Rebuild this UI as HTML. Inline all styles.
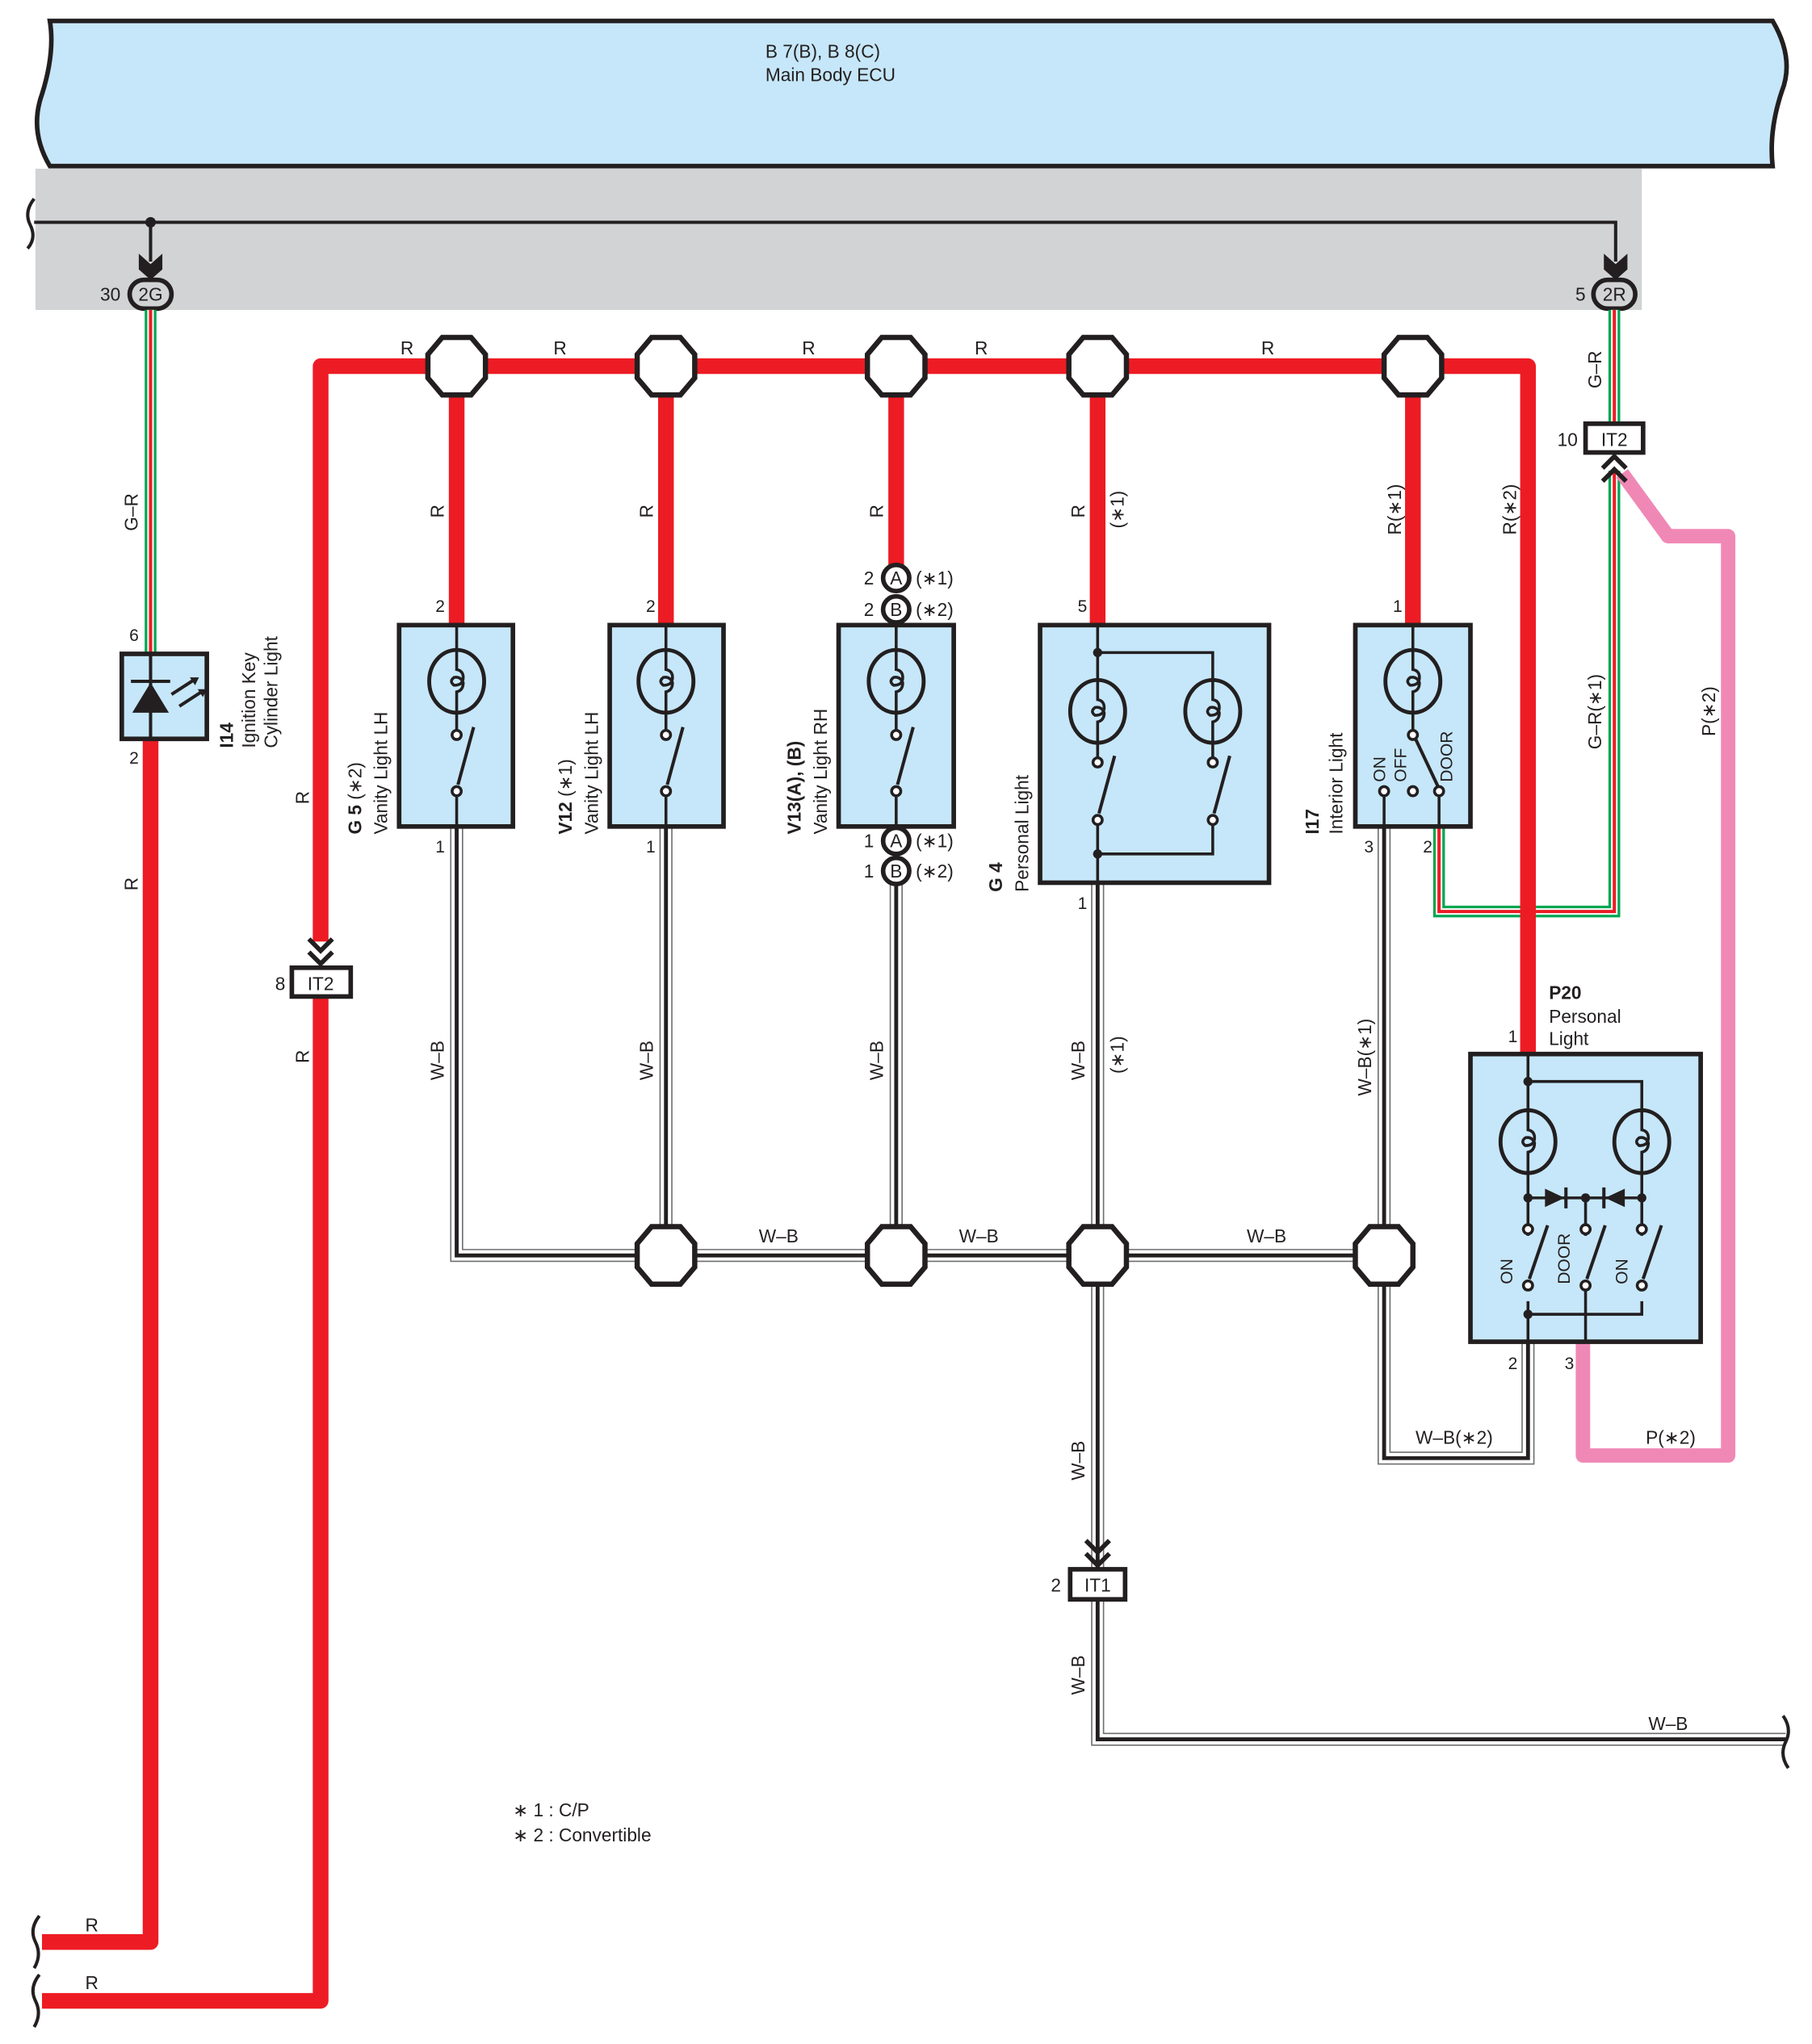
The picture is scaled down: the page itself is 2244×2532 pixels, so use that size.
<!DOCTYPE html>
<html><head><meta charset="utf-8"><style>
html,body{margin:0;padding:0;background:#fff}
svg{display:block}
text{font-family:"Liberation Sans",sans-serif;fill:#231f20}
</style></head><body>
<svg width="2244" height="2532" viewBox="0 0 1385 1563" xmlns="http://www.w3.org/2000/svg">
<defs>
<g id="lamp"><ellipse cx="0" cy="0" rx="21" ry="24" fill="none" stroke="#231f20" stroke-width="3"/>
<path d="M0,-24 V-9 Q5,-8 5,-3 Q5,3 -2,3 Q-6,0 -2,-3 Q3,-4 5,1 Q5,7 0,8 V24" fill="none" stroke="#231f20" stroke-width="2.2"/></g>
<g id="oct"><polygon points="-11,-22 11,-22 22,-9 22,9 11,22 -11,22 -22,9 -22,-9" fill="#fff" stroke="#231f20" stroke-width="4"/></g>
<path id="wb1" fill="none" d="M349,632 V960 H1058 M509,632 V960 M685,676 V960 M839,675 V1200 M839,1223 V1330 H1365 M1058,632 V1115 H1168 V1026"/>
</defs>

<!-- ECU -->
<path d="M38,16 H1355 Q1372,45 1362,70 Q1352,100 1355,127 H38 Q22,100 32,72 Q42,40 38,16 Z" fill="#c6e7f9" stroke="#231f20" stroke-width="3.5"/>
<text x="585" y="44" font-size="14">B 7(B), B 8(C)</text>
<text x="585" y="62" font-size="14">Main Body ECU</text>
<rect x="27" y="129" width="1228" height="108" fill="#d1d3d4"/>
<path d="M26,170 H1235 V200" fill="none" stroke="#231f20" stroke-width="2.5"/>
<path d="M26,152 Q18,162 23,172 Q28,182 21,190" fill="none" stroke="#231f20" stroke-width="2.5"/>
<circle cx="115" cy="170" r="4" fill="#231f20"/>
<line x1="115" y1="170" x2="115" y2="200" stroke="#231f20" stroke-width="2.5"/>
<polygon points="106,194 115,202 124,194 124,206 115,214 106,206" fill="#231f20"/>
<polygon points="1226,194 1235,202 1244,194 1244,206 1235,214 1226,206" fill="#231f20"/>
<rect x="99" y="214" width="32" height="22" rx="11" fill="#d1d3d4" stroke="#231f20" stroke-width="3.5"/>
<text x="115" y="230" font-size="14" text-anchor="middle">2G</text>
<text x="92" y="230" font-size="14" text-anchor="end">30</text>
<rect x="1218" y="214" width="32" height="22" rx="11" fill="#d1d3d4" stroke="#231f20" stroke-width="3.5"/>
<text x="1234" y="230" font-size="14" text-anchor="middle">2R</text>
<text x="1212" y="230" font-size="14" text-anchor="end">5</text>

<!-- G-R wires -->
<g fill="none" stroke-linejoin="miter">
<path d="M115,237 V500" stroke="#00a651" stroke-width="9"/><path d="M115,237 V500" stroke="#fff" stroke-width="5"/><path d="M115,237 V500" stroke="#ed1c24" stroke-width="2.5"/>
<path d="M1234,237 V324" stroke="#00a651" stroke-width="9"/><path d="M1234,237 V324" stroke="#fff" stroke-width="5"/><path d="M1234,237 V324" stroke="#ed1c24" stroke-width="2.5"/>
<path d="M1234,360 V697 H1100 V632" stroke="#00a651" stroke-width="9"/><path d="M1234,360 V697 H1100 V632" stroke="#fff" stroke-width="5"/><path d="M1234,360 V697 H1100 V632" stroke="#ed1c24" stroke-width="2.5"/>
</g>

<!-- pink -->
<path d="M1240,362 L1275,410 H1321 V1113 H1210 V1026" fill="none" stroke="#f088b6" stroke-width="11" stroke-linejoin="round"/>

<!-- red wires -->
<g fill="none" stroke="#ed1c24" stroke-width="12" stroke-linejoin="round">
<path d="M115,565 V1485 H32"/>
<path d="M245,760 V1530 H32"/>
<path d="M245,720 V280 H1168 V806"/>
<path d="M349,280 V478"/><path d="M509,280 V478"/><path d="M685,280 V432"/><path d="M839,280 V478"/><path d="M1080,280 V478"/>
</g>
<path d="M30,1465 Q22,1475 27,1485 Q32,1495 26,1505 M30,1510 Q22,1520 27,1530 Q32,1540 26,1550" fill="none" stroke="#231f20" stroke-width="2.5"/>

<!-- W-B wires -->
<use href="#wb1" fill="none" stroke="#6d6e71" stroke-width="10"/>
<use href="#wb1" fill="none" stroke="#fff" stroke-width="8"/>
<use href="#wb1" fill="none" stroke="#231f20" stroke-width="3"/>
<path d="M1363,1312 Q1370,1322 1365,1332 Q1360,1342 1367,1352" fill="none" stroke="#231f20" stroke-width="2.5"/>

<!-- splices -->
<use href="#oct" x="349" y="280"/><use href="#oct" x="509" y="280"/><use href="#oct" x="685" y="280"/><use href="#oct" x="839" y="280"/><use href="#oct" x="1080" y="280"/>
<use href="#oct" x="509" y="960"/><use href="#oct" x="685" y="960"/><use href="#oct" x="839" y="960"/><use href="#oct" x="1058" y="960"/>

<!-- IT2 / IT1 connectors -->
<path d="M236,718 L245,727 L254,718 M236,728 L245,737 L254,728" fill="none" stroke="#231f20" stroke-width="3.5"/>
<rect x="223" y="740" width="45" height="22" fill="#fff" stroke="#231f20" stroke-width="3.5"/>
<text x="245" y="757" font-size="14" text-anchor="middle">IT2</text>
<text x="218" y="757" font-size="14" text-anchor="end">8</text>
<rect x="1212" y="324" width="44" height="22" fill="#fff" stroke="#231f20" stroke-width="3.5"/>
<text x="1234" y="341" font-size="14" text-anchor="middle">IT2</text>
<text x="1206" y="341" font-size="14" text-anchor="end">10</text>
<path d="M1225,358 L1234,349 L1243,358 M1225,368 L1234,359 L1243,368" fill="none" stroke="#231f20" stroke-width="3.5"/>
<path d="M830,1178 L839,1187 L848,1178 M830,1188 L839,1197 L848,1188" fill="none" stroke="#231f20" stroke-width="3.5"/>
<rect x="818" y="1200" width="42" height="23" fill="#fff" stroke="#231f20" stroke-width="3.5"/>
<text x="839" y="1217" font-size="14" text-anchor="middle">IT1</text>
<text x="811" y="1217" font-size="14" text-anchor="end">2</text>

<!-- I14 -->
<rect x="93" y="500" width="65" height="65" fill="#c6e7f9" stroke="#231f20" stroke-width="3.5"/>
<line x1="115" y1="500" x2="115" y2="565" stroke="#231f20" stroke-width="2.5"/>
<polygon points="101,545 129,545 115,522" fill="#231f20"/><line x1="100" y1="521" x2="130" y2="521" stroke="#231f20" stroke-width="2.5"/>
<path d="M131,531 L148,520 M137,540 L154,529" stroke="#231f20" stroke-width="2.5"/>
<polygon points="152,518 145,518 149,524" fill="#231f20"/><polygon points="158,527 151,527 155,533" fill="#231f20"/>
<text x="106" y="490" font-size="13" text-anchor="end">6</text>
<text x="106" y="584" font-size="13" text-anchor="end">2</text>
<g transform="rotate(-90 178 572)"><text x="178" y="572" font-size="14" font-weight="bold">I14</text></g>
<g transform="rotate(-90 195 572)"><text x="195" y="572" font-size="14">Ignition Key</text></g>
<g transform="rotate(-90 212 572)"><text x="212" y="572" font-size="14">Cylinder Light</text></g>

<!-- G5 -->
<rect x="305" y="478" width="87" height="154" fill="#c6e7f9" stroke="#231f20" stroke-width="3.5"/>
<path d="M349,478 V497 M349,545 V559 M349,609 V632" stroke="#231f20" stroke-width="2.2"/>
<use href="#lamp" x="349" y="521"/>
<circle cx="349" cy="562" r="3.5" fill="#fff" stroke="#231f20" stroke-width="2.2"/><circle cx="349" cy="605" r="3.5" fill="#fff" stroke="#231f20" stroke-width="2.2"/>
<line x1="350" y1="600" x2="362" y2="556" stroke="#231f20" stroke-width="2.5"/>
<text x="340" y="468" font-size="13" text-anchor="end">2</text><text x="340" y="652" font-size="13" text-anchor="end">1</text>
<g transform="rotate(-90 276 638)"><text x="276" y="638" font-size="14"><tspan font-weight="bold">G 5</tspan> (∗2)</text></g>
<g transform="rotate(-90 296 638)"><text x="296" y="638" font-size="14">Vanity Light LH</text></g>

<!-- V12 -->
<rect x="466" y="478" width="87" height="154" fill="#c6e7f9" stroke="#231f20" stroke-width="3.5"/>
<path d="M509,478 V497 M509,545 V559 M509,609 V632" stroke="#231f20" stroke-width="2.2"/>
<use href="#lamp" x="509" y="521"/>
<circle cx="509" cy="562" r="3.5" fill="#fff" stroke="#231f20" stroke-width="2.2"/><circle cx="509" cy="605" r="3.5" fill="#fff" stroke="#231f20" stroke-width="2.2"/>
<line x1="510" y1="600" x2="522" y2="556" stroke="#231f20" stroke-width="2.5"/>
<text x="501" y="468" font-size="13" text-anchor="end">2</text><text x="501" y="652" font-size="13" text-anchor="end">1</text>
<g transform="rotate(-90 437 638)"><text x="437" y="638" font-size="14"><tspan font-weight="bold">V12</tspan> (∗1)</text></g>
<g transform="rotate(-90 457 638)"><text x="457" y="638" font-size="14">Vanity Light LH</text></g>

<!-- V13 -->
<rect x="641" y="478" width="88" height="154" fill="#c6e7f9" stroke="#231f20" stroke-width="3.5"/>
<path d="M685,478 V497 M685,545 V559 M685,609 V632" stroke="#231f20" stroke-width="2.2"/>
<use href="#lamp" x="685" y="521"/>
<circle cx="685" cy="562" r="3.5" fill="#fff" stroke="#231f20" stroke-width="2.2"/><circle cx="685" cy="605" r="3.5" fill="#fff" stroke="#231f20" stroke-width="2.2"/>
<line x1="686" y1="600" x2="698" y2="556" stroke="#231f20" stroke-width="2.5"/>
<g font-size="14">
<circle cx="685" cy="442" r="10" fill="#fff" stroke="#231f20" stroke-width="3.5"/><text x="685" y="447" text-anchor="middle">A</text>
<circle cx="685" cy="466" r="10" fill="#fff" stroke="#231f20" stroke-width="3.5"/><text x="685" y="471" text-anchor="middle">B</text>
<circle cx="685" cy="643" r="10" fill="#fff" stroke="#231f20" stroke-width="3.5"/><text x="685" y="648" text-anchor="middle">A</text>
<circle cx="685" cy="666" r="10" fill="#fff" stroke="#231f20" stroke-width="3.5"/><text x="685" y="671" text-anchor="middle">B</text>
<text x="668" y="447" text-anchor="end">2</text><text x="668" y="471" text-anchor="end">2</text>
<text x="668" y="648" text-anchor="end">1</text><text x="668" y="671" text-anchor="end">1</text>
<text x="700" y="447">(∗1)</text><text x="700" y="471">(∗2)</text><text x="700" y="648">(∗1)</text><text x="700" y="671">(∗2)</text>
</g>
<g transform="rotate(-90 612 638)"><text x="612" y="638" font-size="14"><tspan font-weight="bold">V13(A), (B)</tspan></text></g>
<g transform="rotate(-90 632 638)"><text x="632" y="638" font-size="14">Vanity Light RH</text></g>

<!-- G4 -->
<rect x="795" y="478" width="175" height="197" fill="#c6e7f9" stroke="#231f20" stroke-width="3.5"/>
<path d="M839,478 V520 M839,568 V580 M839,628 V675 M839,499 H927 V520 M927,568 V580 M927,628 V653 H839" fill="none" stroke="#231f20" stroke-width="2.2"/>
<use href="#lamp" x="839" y="544"/><use href="#lamp" x="927" y="544"/>
<circle cx="839" cy="499" r="3.5" fill="#231f20"/><circle cx="839" cy="653" r="3.5" fill="#231f20"/>
<circle cx="839" cy="583" r="3.5" fill="#fff" stroke="#231f20" stroke-width="2.2"/><circle cx="839" cy="627" r="3.5" fill="#fff" stroke="#231f20" stroke-width="2.2"/>
<circle cx="927" cy="583" r="3.5" fill="#fff" stroke="#231f20" stroke-width="2.2"/><circle cx="927" cy="627" r="3.5" fill="#fff" stroke="#231f20" stroke-width="2.2"/>
<line x1="840" y1="622" x2="852" y2="578" stroke="#231f20" stroke-width="2.5"/><line x1="928" y1="622" x2="940" y2="578" stroke="#231f20" stroke-width="2.5"/>
<text x="831" y="468" font-size="13" text-anchor="end">5</text><text x="831" y="695" font-size="13" text-anchor="end">1</text>
<g transform="rotate(-90 766 682)"><text x="766" y="682" font-size="14" font-weight="bold">G 4</text></g>
<g transform="rotate(-90 786 682)"><text x="786" y="682" font-size="14">Personal Light</text></g>

<!-- I17 -->
<rect x="1036" y="478" width="88" height="154" fill="#c6e7f9" stroke="#231f20" stroke-width="3.5"/>
<path d="M1080,478 V497 M1080,545 V559 M1058,606 V632 M1100,606 V632" stroke="#231f20" stroke-width="2.2"/>
<use href="#lamp" x="1080" y="521"/>
<circle cx="1080" cy="562" r="3.5" fill="#fff" stroke="#231f20" stroke-width="2.2"/>
<circle cx="1058" cy="605" r="3.5" fill="#fff" stroke="#231f20" stroke-width="2.2"/><circle cx="1080" cy="605" r="3.5" fill="#fff" stroke="#231f20" stroke-width="2.2"/><circle cx="1100" cy="605" r="3.5" fill="#fff" stroke="#231f20" stroke-width="2.2"/>
<line x1="1082" y1="565" x2="1099" y2="601" stroke="#231f20" stroke-width="2.5"/>
<g transform="rotate(-90 1059 598)"><text x="1059" y="598" font-size="13">ON</text></g>
<g transform="rotate(-90 1075 598)"><text x="1075" y="598" font-size="13">OFF</text></g>
<g transform="rotate(-90 1110 598)"><text x="1110" y="598" font-size="13">DOOR</text></g>
<text x="1072" y="468" font-size="13" text-anchor="end">1</text>
<text x="1050" y="652" font-size="13" text-anchor="end">3</text><text x="1095" y="652" font-size="13" text-anchor="end">2</text>
<g transform="rotate(-90 1008 638)"><text x="1008" y="638" font-size="14" font-weight="bold">I17</text></g>
<g transform="rotate(-90 1026 638)"><text x="1026" y="638" font-size="14">Interior Light</text></g>

<!-- P20 -->
<rect x="1124" y="806" width="176" height="220" fill="#c6e7f9" stroke="#231f20" stroke-width="3.5"/>
<path d="M1168,806 V849 M1168,897 V945 M1168,995 V1026 M1168,827 H1255 V849 M1255,897 V945 M1255,995 V1005 H1168 M1212,916 V945 M1212,985 V1026 M1168,916 H1255" fill="none" stroke="#231f20" stroke-width="2.2"/>
<use href="#lamp" x="1168" y="873"/><use href="#lamp" x="1255" y="873"/>
<polygon points="1181,909 1181,923 1196,916" fill="#231f20"/><line x1="1197" y1="908" x2="1197" y2="924" stroke="#231f20" stroke-width="2.5"/>
<polygon points="1242,909 1242,923 1227,916" fill="#231f20"/><line x1="1226" y1="908" x2="1226" y2="924" stroke="#231f20" stroke-width="2.5"/>
<circle cx="1168" cy="827" r="3.5" fill="#231f20"/><circle cx="1168" cy="916" r="3.5" fill="#231f20"/><circle cx="1212" cy="916" r="3.5" fill="#231f20"/><circle cx="1255" cy="916" r="3.5" fill="#231f20"/><circle cx="1168" cy="1005" r="3.5" fill="#231f20"/>
<circle cx="1168" cy="940" r="3.5" fill="#fff" stroke="#231f20" stroke-width="2.2"/><circle cx="1212" cy="940" r="3.5" fill="#fff" stroke="#231f20" stroke-width="2.2"/><circle cx="1255" cy="940" r="3.5" fill="#fff" stroke="#231f20" stroke-width="2.2"/>
<circle cx="1168" cy="983" r="3.5" fill="#fff" stroke="#231f20" stroke-width="2.2"/><circle cx="1212" cy="983" r="3.5" fill="#fff" stroke="#231f20" stroke-width="2.2"/><circle cx="1255" cy="983" r="3.5" fill="#fff" stroke="#231f20" stroke-width="2.2"/>
<line x1="1169" y1="978" x2="1183" y2="937" stroke="#231f20" stroke-width="2.5"/><line x1="1213" y1="978" x2="1227" y2="937" stroke="#231f20" stroke-width="2.5"/><line x1="1256" y1="978" x2="1270" y2="937" stroke="#231f20" stroke-width="2.5"/>
<g transform="rotate(-90 1156 982)"><text x="1156" y="982" font-size="13">ON</text></g>
<g transform="rotate(-90 1200 982)"><text x="1200" y="982" font-size="13">DOOR</text></g>
<g transform="rotate(-90 1244 982)"><text x="1244" y="982" font-size="13">ON</text></g>
<text x="1160" y="797" font-size="13" text-anchor="end">1</text>
<text x="1160" y="1047" font-size="13" text-anchor="end">2</text><text x="1196" y="1047" font-size="13">3</text>
<text x="1184" y="764" font-size="14" font-weight="bold">P20</text>
<text x="1184" y="782" font-size="14">Personal</text>
<text x="1184" y="799" font-size="14">Light</text>

<!-- wire labels -->
<g font-size="14">
<text x="306" y="271">R</text><text x="423" y="271">R</text><text x="613" y="271">R</text><text x="745" y="271">R</text><text x="964" y="271">R</text>
<text x="65" y="1477">R</text><text x="65" y="1521">R</text>
<text x="580" y="950">W–B</text><text x="733" y="950">W–B</text><text x="953" y="950">W–B</text>
<text x="1260" y="1323">W–B</text>
<text x="1082" y="1104">W–B(∗2)</text>
<text x="1258" y="1104">P(∗2)</text>
</g>
<g font-size="14">
<g transform="rotate(-90 339 396)"><text x="339" y="396">R</text></g>
<g transform="rotate(-90 499 396)"><text x="499" y="396">R</text></g>
<g transform="rotate(-90 675 396)"><text x="675" y="396">R</text></g>
<g transform="rotate(-90 829 396)"><text x="829" y="396">R</text></g>
<g transform="rotate(-90 859 404)"><text x="859" y="404">(∗1)</text></g>
<g transform="rotate(-90 1071 409)"><text x="1071" y="409">R(∗1)</text></g>
<g transform="rotate(-90 1159 409)"><text x="1159" y="409">R(∗2)</text></g>
<g transform="rotate(-90 1224 297)"><text x="1224" y="297">G–R</text></g>
<g transform="rotate(-90 1224 573)"><text x="1224" y="573">G–R(∗1)</text></g>
<g transform="rotate(-90 1311 563)"><text x="1311" y="563">P(∗2)</text></g>
<g transform="rotate(-90 105 406)"><text x="105" y="406">G–R</text></g>
<g transform="rotate(-90 105 681)"><text x="105" y="681">R</text></g>
<g transform="rotate(-90 236 615)"><text x="236" y="615">R</text></g>
<g transform="rotate(-90 236 813)"><text x="236" y="813">R</text></g>
<g transform="rotate(-90 339 826)"><text x="339" y="826">W–B</text></g>
<g transform="rotate(-90 499 826)"><text x="499" y="826">W–B</text></g>
<g transform="rotate(-90 675 826)"><text x="675" y="826">W–B</text></g>
<g transform="rotate(-90 829 826)"><text x="829" y="826">W–B</text></g>
<g transform="rotate(-90 859 821)"><text x="859" y="821">(∗1)</text></g>
<g transform="rotate(-90 1048 838)"><text x="1048" y="838">W–B(∗1)</text></g>
<g transform="rotate(-90 829 1132)"><text x="829" y="1132">W–B</text></g>
<g transform="rotate(-90 829 1296)"><text x="829" y="1296">W–B</text></g>
</g>
<text x="392" y="1389" font-size="14">∗ 1 : C/P</text>
<text x="392" y="1408" font-size="14">∗ 2 : Convertible</text>
</svg>
</body></html>
